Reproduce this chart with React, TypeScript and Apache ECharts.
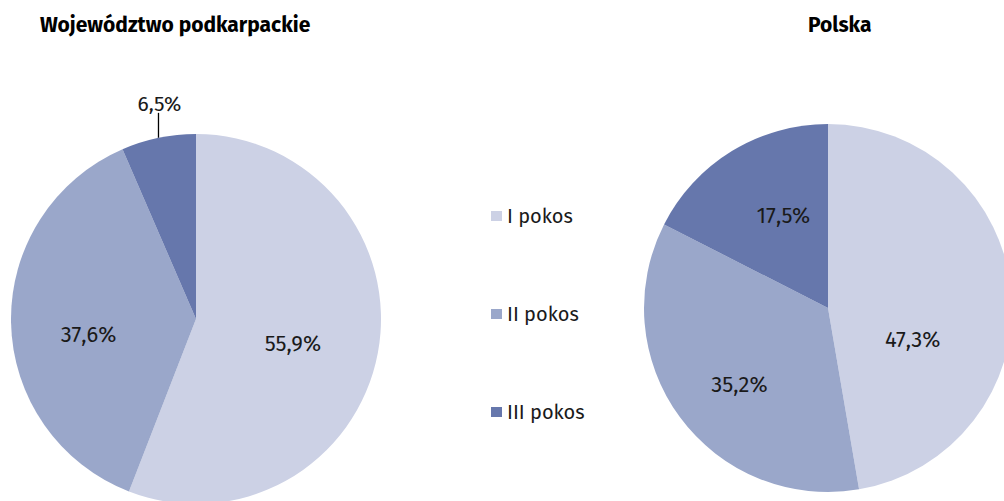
import React, { useEffect, useRef } from "react";
import * as echarts from "echarts";

const categories = ["I pokos", "II pokos", "III pokos"];
const podkarpackieValues = [55.9, 37.6, 6.5];
const polskaValues = [47.3, 35.2, 17.5];
const chartTitles = ["Województwo podkarpackie", "Polska"];

const COLORS = ["#CCD1E5", "#9AA7CA", "#6677AC"];
const FONT = "'Fira Sans', 'Noto Sans', sans-serif";

const fmt = (v: number) => v.toFixed(1).replace(".", ",") + "%";

export default function App() {
  const ref = useRef<HTMLDivElement>(null);

  useEffect(() => {
    if (!ref.current) return;
    const chart = echarts.init(ref.current, null, { renderer: "svg" });

    const leftNudge = [
      [3, 7],
      [-12, 14],
    ];
    const rightNudge = [
      [-10, 40],
      [-12, 20],
      [5, -11],
    ];

    const labelBase = {
      show: true,
      position: "inside",
      color: "#1a1a1a",
      fontFamily: FONT,
      fontSize: 22,
      formatter: (p: any) => fmt(p.value),
    };

    chart.setOption({
      animation: false,
      color: COLORS,
      title: [
        {
          text: chartTitles[0],
          left: 35,
          top: 9,
          textStyle: { fontFamily: FONT, fontSize: 21, fontWeight: "bold", color: "#000" },
        },
        {
          text: chartTitles[1],
          left: 803,
          top: 9,
          textStyle: { fontFamily: FONT, fontSize: 21, fontWeight: "bold", color: "#000" },
        },
      ],
      legend: {
        orient: "vertical",
        left: 486,
        top: 201,
        itemWidth: 11,
        itemHeight: 10,
        itemGap: 78,
        icon: "rect",
        selectedMode: false,
        data: categories,
        textStyle: { fontFamily: FONT, fontSize: 20, color: "#1a1a1a", lineHeight: 20 },
      },
      series: [
        {
          type: "pie",
          center: [196, 319],
          radius: 185,
          startAngle: 90,
          clockwise: true,
          silent: true,
          avoidLabelOverlap: false,
          label: labelBase,
          labelLine: { show: false },
          labelLayout: (params: any) => {
            const i = params.dataIndex;
            if (i === 2 && params.labelLinePoints) {
              const p = params.labelLinePoints[0];
              const top = p[1] - 25;
              return {
                x: p[0] + 1,
                y: top + 2,
                align: "center",
                verticalAlign: "bottom",
                labelLinePoints: [
                  [p[0], p[1]],
                  [p[0], top],
                  [p[0], top],
                ],
              };
            }
            const n = leftNudge[i] || [0, 0];
            return { dx: n[0], dy: n[1] };
          },
          data: categories.map((name, i) =>
            i === 2
              ? {
                  name,
                  value: podkarpackieValues[i],
                  label: { position: "outside", alignTo: "none", fontSize: 21 },
                  labelLine: {
                    show: true,
                    length: 25,
                    length2: 0,
                    lineStyle: { color: "#000", width: 1.3 },
                  },
                }
              : { name, value: podkarpackieValues[i] }
          ),
        },
        {
          type: "pie",
          center: [828, 308],
          radius: 184,
          startAngle: 90,
          clockwise: true,
          silent: true,
          avoidLabelOverlap: false,
          label: labelBase,
          labelLine: { show: false },
          labelLayout: (params: any) => {
            const n = rightNudge[params.dataIndex] || [0, 0];
            return { dx: n[0], dy: n[1] };
          },
          data: categories.map((name, i) => ({ name, value: polskaValues[i] })),
        },
      ],
    });

    return () => chart.dispose();
  }, []);

  return (
    <div
      ref={ref}
      style={{ position: "fixed", left: 0, top: 0, width: 1004, height: 501, background: "#fff" }}
    />
  );
}
